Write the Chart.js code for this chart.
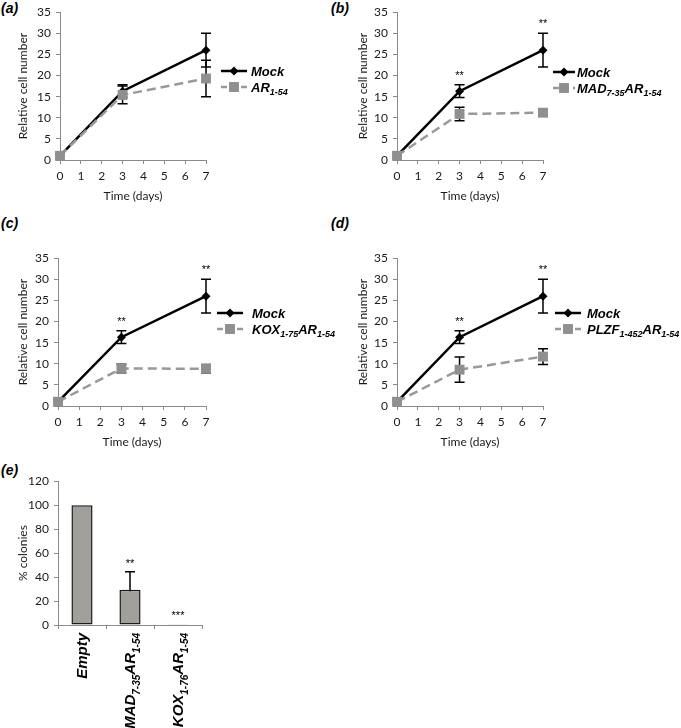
<!DOCTYPE html>
<html>
<head>
<meta charset="utf-8">
<script src="https://cdn.jsdelivr.net/npm/chart.js@4.4.1/dist/chart.umd.min.js"></script>
<style>
  body { margin: 0; background: #fff; width: 681px; height: 728px; position: relative; overflow: hidden; }
  .panel { position: absolute; }
  .tag { position: absolute; font: bold italic 14px "Liberation Sans", Arial, sans-serif; line-height: 16px; color: #000; }
</style>
</head>
<body>
<div class="tag" style="left:1px;top:0px">(a)</div>
<div class="tag" style="left:331px;top:0px">(b)</div>
<div class="tag" style="left:1px;top:215px">(c)</div>
<div class="tag" style="left:331px;top:215px">(d)</div>
<div class="tag" style="left:1px;top:462px">(e)</div>

<div class="panel" style="left:0;top:0"><canvas id="chartA" width="340" height="206"></canvas></div>
<div class="panel" style="left:340px;top:0"><canvas id="chartB" width="341" height="206"></canvas></div>
<div class="panel" style="left:0;top:246px"><canvas id="chartC" width="340" height="206"></canvas></div>
<div class="panel" style="left:340px;top:246px"><canvas id="chartD" width="341" height="206"></canvas></div>
<div class="panel" style="left:0;top:469px"><canvas id="chartE" width="681" height="259"></canvas></div>

<script>
// growth curves, relative cell number vs days
const days = [0, 3, 7];
const mockCells = [1, 16.3, 26];
const mockErr = [0, 1.5, 4];
const ar154Cells = [1, 15.4, 19.3];
const ar154Err = [0, 2.1, 4.3];
const mad735Cells = [1, 10.9, 11.2];
const mad735Err = [0, 1.6, 0.8];
const kox175Cells = [1, 8.9, 8.8];
const kox175Err = [0, 1.0, 1.0];
const plzf1452Cells = [1, 8.6, 11.7];
const plzf1452Err = [0, 3.0, 1.85];
const mockStars = ['', '**', '**'];

// legend / category names: [text, isSubscript]
const mockName = [['Mock', 0]];
const ar154Name = [['AR', 0], ['1-54', 1]];
const mad735Name = [['MAD', 0], ['7-35', 1], ['AR', 0], ['1-54', 1]];
const kox175Name = [['KOX', 0], ['1-75', 1], ['AR', 0], ['1-54', 1]];
const plzf1452Name = [['PLZF', 0], ['1-452', 1], ['AR', 0], ['1-54', 1]];

// colony assay
const colonyGroups = [
  [['Empty', 0]],
  [['MAD', 0], ['7-35', 1], ['AR', 0], ['1-54', 1]],
  [['KOX', 0], ['1-76', 1], ['AR', 0], ['1-54', 1]]
];
const colonyPct = [100, 29.5, 0.6];
const colonyErr = [0, 15, 0];
const colonyStars = ['', '**', '***'];

const RICH = '"Liberation Sans", Arial, sans-serif';
const GRAY = '#999999';
const AXIS = '#8a8a8a';
Chart.defaults.font.family = 'Lato, "Open Sans", sans-serif';
Chart.defaults.color = '#1a1a1a';

function richWidth(ctx, parts, size, subSize) {
  let w = 0;
  parts.forEach(([t, sub]) => {
    ctx.font = `bold italic ${sub ? subSize : size}px ${RICH}`;
    w += ctx.measureText(t).width;
  });
  return w;
}

function drawRich(ctx, parts, x, y, size, subSize) {
  let cx = x;
  ctx.textAlign = 'left';
  ctx.textBaseline = 'alphabetic';
  ctx.fillStyle = '#000';
  parts.forEach(([t, sub]) => {
    ctx.font = `bold italic ${sub ? subSize : size}px ${RICH}`;
    ctx.fillText(t, cx, sub ? y + size * 0.28 : y);
    cx += ctx.measureText(t).width;
  });
}

function marker(ctx, style, x, y, r, color) {
  ctx.fillStyle = color;
  ctx.beginPath();
  if (style === 'rectRot') {
    ctx.moveTo(x, y - r); ctx.lineTo(x + r, y); ctx.lineTo(x, y + r); ctx.lineTo(x - r, y);
    ctx.closePath();
  } else {
    const s = r * Math.SQRT1_2;
    ctx.rect(x - s, y - s, 2 * s, 2 * s);
  }
  ctx.fill();
}

// error bars under the markers, stars above them
const errorBars = {
  id: 'errorBars',
  beforeDatasetsDraw(chart) {
    const { ctx } = chart;
    const y = chart.scales.y;
    chart.data.datasets.forEach((ds, i) => {
      if (!ds.errors) return;
      const meta = chart.getDatasetMeta(i);
      meta.data.forEach((el, j) => {
        const e = ds.errors[j];
        if (!e) return;
        const raw = ds.data[j];
        const v = typeof raw === 'object' ? raw.y : raw;
        const top = y.getPixelForValue(v + e), bot = y.getPixelForValue(v - e);
        ctx.save();
        ctx.strokeStyle = '#000';
        ctx.lineWidth = 1.5;
        ctx.beginPath();
        ctx.moveTo(el.x, top); ctx.lineTo(el.x, bot);
        ctx.moveTo(el.x - 5, top); ctx.lineTo(el.x + 5, top);
        ctx.moveTo(el.x - 5, bot); ctx.lineTo(el.x + 5, bot);
        ctx.stroke();
        ctx.restore();
      });
    });
  },
  afterDatasetsDraw(chart, args, opts) {
    const { ctx } = chart;
    const y = chart.scales.y;
    chart.data.datasets.forEach((ds, i) => {
      if (!ds.stars) return;
      const meta = chart.getDatasetMeta(i);
      meta.data.forEach((el, j) => {
        if (!ds.stars[j]) return;
        const raw = ds.data[j];
        const v = typeof raw === 'object' ? raw.y : raw;
        const top = y.getPixelForValue(v + (ds.errors ? ds.errors[j] : 0));
        ctx.save();
        ctx.font = `11px ${RICH}`;
        ctx.fillStyle = '#000';
        ctx.textAlign = 'center';
        ctx.textBaseline = 'alphabetic';
        ctx.fillText(ds.stars[j], el.x, top - (opts.starGap || 5));
        ctx.restore();
      });
    });
  }
};

const sideLegend = {
  id: 'sideLegend',
  afterDraw(chart, args, opts) {
    if (!opts.entries) return;
    const { ctx } = chart;
    opts.entries.forEach((en, k) => {
      const yy = opts.y + k * 16;
      ctx.save();
      ctx.strokeStyle = en.color;
      ctx.lineWidth = 2.5;
      ctx.setLineDash(en.dash || []);
      ctx.beginPath();
      ctx.moveTo(opts.x, yy); ctx.lineTo(opts.x + opts.len, yy);
      ctx.stroke();
      ctx.setLineDash([]);
      marker(ctx, en.style, opts.x + opts.len / 2, yy, en.radius, en.fill);
      drawRich(ctx, en.name, opts.textX, yy + 4.6, 13, 9);
      ctx.restore();
    });
  }
};

const categoryLabels = {
  id: 'categoryLabels',
  afterDraw(chart, args, opts) {
    if (!opts.groups) return;
    const { ctx } = chart;
    const x = chart.scales.x;
    const topY = chart.chartArea.bottom + 8;
    opts.groups.forEach((parts, i) => {
      const cx = x.getPixelForValue(i);
      const w = richWidth(ctx, parts, 15, 10);
      ctx.save();
      ctx.translate(cx, topY);
      ctx.rotate(-Math.PI / 2);
      drawRich(ctx, parts, -w, 5.4, 15, 10);
      ctx.restore();
    });
  }
};

Chart.register(errorBars, sideLegend, categoryLabels);

function axisY(width, max, step, title) {
  return {
    min: 0, max: max,
    afterFit: (s) => { s.width = width; },
    ticks: { stepSize: step, padding: 5, font: { size: 12 }, color: '#1a1a1a' },
    grid: { display: true, drawOnChartArea: false, drawTicks: true, tickLength: 4, color: AXIS },
    border: { display: true, color: AXIS, width: 1 },
    title: { display: true, text: title, font: { size: 12 }, color: '#1a1a1a', padding: { top: 16, bottom: 0 } }
  };
}

const pts = (vals) => days.map((d, i) => ({ x: d, y: vals[i] }));

function growthChart(id, vals, err, name, stars, place) {
  return new Chart(document.getElementById(id), {
    type: 'line',
    data: {
      datasets: [
        {
          data: pts(mockCells), errors: mockErr, stars: stars,
          borderColor: '#000', backgroundColor: '#000', borderWidth: 2.5,
          pointStyle: 'rectRot', pointRadius: 4.5, pointBorderWidth: 0,
          tension: 0, order: 1, clip: false
        },
        {
          data: pts(vals), errors: err,
          borderColor: GRAY, backgroundColor: '#8f8f8f', borderWidth: 2.5, borderDash: [9, 5],
          pointStyle: 'rect', pointRadius: 7, pointBorderWidth: 0,
          tension: 0, order: 0, clip: false
        }
      ]
    },
    options: {
      responsive: false,
      animation: false,
      events: [],
      layout: { padding: { left: 0, top: 10, bottom: 0, right: place.right } },
      scales: {
        x: {
          type: 'linear', min: 0, max: 7,
          afterFit: (s) => { s.height = 46; },
          ticks: { stepSize: 1, padding: 5, font: { size: 12 }, color: '#1a1a1a' },
          grid: { display: true, drawOnChartArea: false, drawTicks: true, tickLength: 4, color: AXIS },
          border: { display: true, color: AXIS, width: 1 },
          title: { display: true, text: 'Time (days)', font: { size: 12 }, color: '#1a1a1a', padding: { top: 0, bottom: 3 } }
        },
        y: axisY(place.yw, 35, 5, 'Relative cell number')
      },
      plugins: {
        legend: { display: false },
        tooltip: { enabled: false },
        errorBars: { starGap: 6 },
        sideLegend: {
          x: place.lx, len: place.len, textX: place.tx, y: place.ly,
          entries: [
            { name: mockName, color: '#000', style: 'rectRot', radius: 4.5, fill: '#000' },
            { name: name, color: GRAY, dash: [6, 4], style: 'rect', radius: 7, fill: '#8f8f8f' }
          ]
        }
      }
    }
  });
}

growthChart('chartA', ar154Cells, ar154Err, ar154Name, null,
  { yw: 60, right: 134, lx: 221, len: 26, tx: 251, ly: 71 });
growthChart('chartB', mad735Cells, mad735Err, mad735Name, mockStars,
  { yw: 57, right: 138, lx: 213, len: 22, tx: 237, ly: 72 });
growthChart('chartC', kox175Cells, kox175Err, kox175Name, mockStars,
  { yw: 58, right: 134, lx: 217, len: 26, tx: 252, ly: 67 });
growthChart('chartD', plzf1452Cells, plzf1452Err, plzf1452Name, mockStars,
  { yw: 57, right: 138, lx: 215, len: 26, tx: 247, ly: 67 });

new Chart(document.getElementById('chartE'), {
  type: 'bar',
  data: {
    labels: colonyGroups.map(g => g.map(p => p[0]).join('')),
    datasets: [{
      data: colonyPct, errors: colonyErr, stars: colonyStars,
      backgroundColor: '#a09f9b', borderColor: '#1a1a1a', borderWidth: 1.5, borderSkipped: false,
      barPercentage: 0.44, categoryPercentage: 1
    }]
  },
  options: {
    responsive: false,
    animation: false,
    events: [],
    layout: { padding: { left: 0, top: 10, bottom: 0, right: 479 } },
    scales: {
      x: {
        afterFit: (s) => { s.height = 103; },
        ticks: { display: false },
        grid: { display: true, offset: true, drawOnChartArea: false, drawTicks: true, tickLength: 4, color: AXIS },
        border: { display: true, color: AXIS, width: 1 }
      },
      y: axisY(58, 120, 20, '% colonies')
    },
    plugins: {
      legend: { display: false },
      tooltip: { enabled: false },
      errorBars: { starGap: 5 },
      categoryLabels: { groups: colonyGroups }
    }
  }
});
</script>
</body>
</html>
